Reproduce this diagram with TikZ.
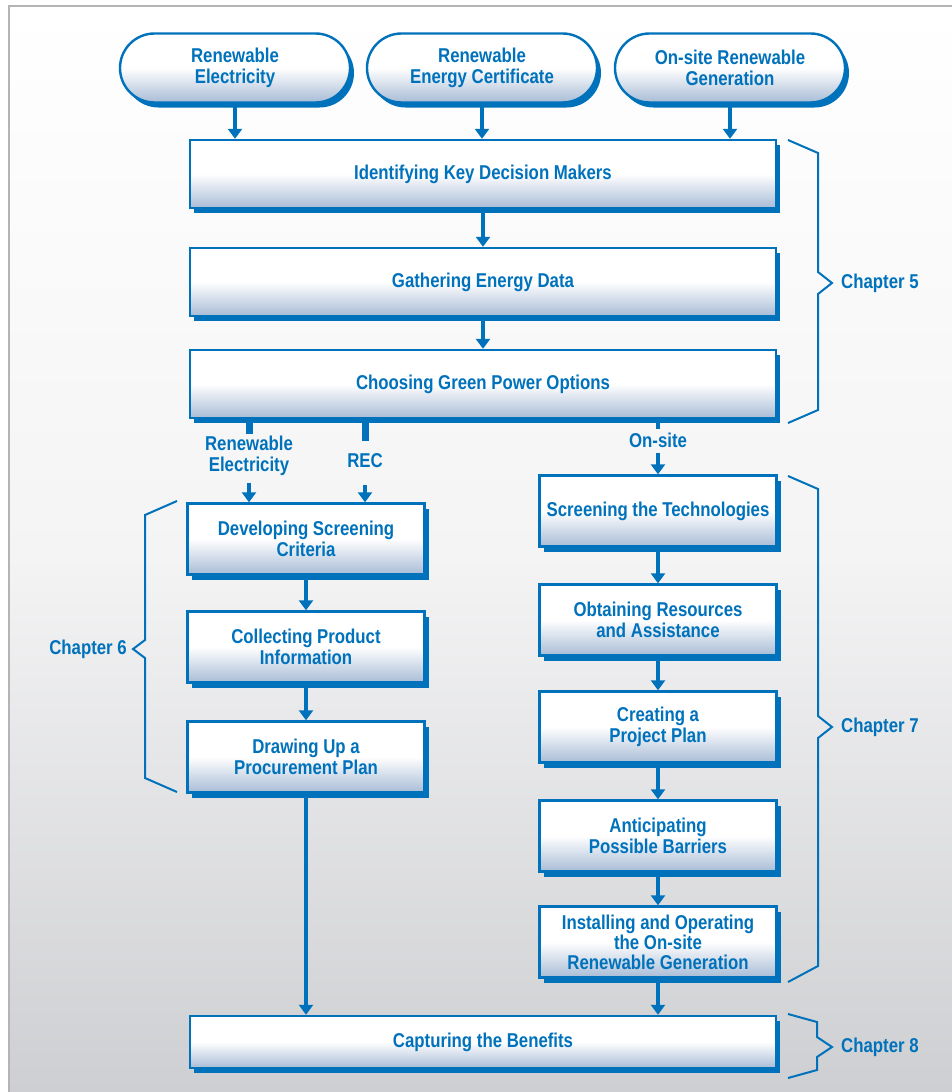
\documentclass[tikz,border=0pt]{standalone}
\usepackage{fontspec}
\newfontfamily\gpfont[FakeStretch=0.84]{Liberation Sans}
\usetikzlibrary{shapes.misc,shadows,arrows.meta}
\definecolor{gpblue}{RGB}{0,114,188}
\definecolor{boxbot}{RGB}{168,188,214}
\definecolor{bgmid}{RGB}{244,244,245}
\definecolor{bgbot}{RGB}{205,206,209}
\definecolor{framegray}{RGB}{180,180,182}
\tikzset{
  gptext/.style={text=gpblue, font=\gpfont\bfseries\fontsize{20}{21}\selectfont, align=center},
  gpbox/.style={gptext, draw=gpblue, line width=2.4pt, inner sep=2pt,
    top color=white, bottom color=boxbot, middle color=white,
    drop shadow={fill=gpblue, opacity=1, shadow xshift=4pt, shadow yshift=-5pt}},
  oval/.style={gpbox, rounded rectangle, minimum width=234pt, minimum height=69pt},
  widebox/.style={minimum width=586pt, minimum height=68pt},
  colbox/.style={minimum width=237pt, minimum height=71pt},
  lbl/.style={gptext, inner sep=1pt},
  chap/.style={gptext, inner sep=0pt},
  arr/.style={draw=gpblue, line width=3.5pt, -{Triangle[width=14pt,length=10pt]}},
  stub/.style={draw=gpblue, line width=7pt},
  brc/.style={draw=gpblue, line width=2pt, line join=miter}
}
\begin{document}
\begin{tikzpicture}[x=1pt,y=-1pt]
    \useasboundingbox (0,0) rectangle (952,1092);
    \fill[white] (0,0) rectangle (952,1092);
    \shadedraw[top color=white, bottom color=bgbot, middle color=bgmid, draw=framegray, line width=2pt] (9,6) rectangle (964,1104);

    \node[oval] (ovEl) at (235,68) {Renewable\\Electricity};
    \node[oval] (ovRec) at (482,68) {Renewable\\Energy Certificate};
    \node[oval] (ovOn) at (730,68) {On-site Renewable\\Generation};

    \node[gpbox, widebox] (idKey) at (483,174) {Identifying Key Decision Makers};
    \node[gpbox, widebox] (gather) at (483,282) {Gathering Energy Data};
    \node[gpbox, widebox] (choose) at (483,384) {Choosing Green Power Options};

    \node[lbl] (lbRE) at (249,456) {Renewable\\Electricity};
    \node[lbl] (lbREC) at (365,461) {REC};
    \node[lbl] (lbOS) at (658,440) {On-site};

    \node[gpbox, colbox] (devCrit) at (306,539) {Developing Screening\\Criteria};
    \node[gpbox, colbox] (collect) at (306,647) {Collecting Product\\Information};
    \node[gpbox, colbox] (procure) at (306,757) {Drawing Up a\\Procurement Plan};

    \node[gpbox, colbox] (screen) at (658,511) {Screening the Technologies};
    \node[gpbox, colbox] (obtain) at (658,620) {Obtaining Resources\\and Assistance};
    \node[gpbox, colbox] (project) at (658,727) {Creating a\\Project Plan};
    \node[gpbox, colbox] (barrier) at (658,836) {Anticipating\\Possible Barriers};
    \node[gpbox, colbox, font=\gpfont\bfseries\fontsize{20}{20}\selectfont] (install) at (658,942) {Installing and Operating\\the On-site\\Renewable Generation};

    \node[gpbox, widebox, minimum height=52pt] (capture) at (483,1042) {Capturing the Benefits};

    \draw[arr] (ovEl.south) -- (ovEl.south |- idKey.north);
    \draw[arr] (ovRec.south) -- (ovRec.south |- idKey.north);
    \draw[arr] (ovOn.south) -- (ovOn.south |- idKey.north);
    \draw[arr] (idKey) -- (gather);
    \draw[arr] (gather) -- (choose);

    \draw[stub, shorten >=1pt] (choose.south -| lbRE.north) -- (lbRE.north);
    \draw[stub, shorten >=12pt] (choose.south -| lbREC.north) -- (lbREC.north);
    \draw[draw=gpblue, line width=3.5pt, shorten >=2pt] (choose.south -| lbOS.north) -- (lbOS.north);
    \draw[arr, shorten <=6pt] (lbRE.south) -- (lbRE.south |- devCrit.north);
    \draw[arr, shorten <=16pt] (lbREC.south) -- (lbREC.south |- devCrit.north);
    \draw[arr, shorten <=4pt] (lbOS.south) -- (screen);

    \draw[arr] (devCrit) -- (collect);
    \draw[arr] (collect) -- (procure);
    \draw[arr] (procure.south) -- (procure.south |- capture.north);
    \draw[arr] (screen) -- (obtain);
    \draw[arr] (obtain) -- (project);
    \draw[arr] (project) -- (barrier);
    \draw[arr] (barrier) -- (install);
    \draw[arr] (install.south) -- (install.south |- capture.north);

    \draw[brc] (788,140) -- (818,153) -- (818,272) -- (832,283) -- (818,294) -- (818,410) -- (788,423);
    \node[chap, anchor=west] (ch5) at (841,283) {Chapter 5};
    \draw[brc] (177,501) -- (145,515) -- (145,640) -- (133,649) -- (145,658) -- (145,778) -- (177,792);
    \node[chap, anchor=east] (ch6) at (127,649) {Chapter 6};
    \draw[brc] (788,476) -- (818,489) -- (818,716) -- (832,727) -- (818,738) -- (818,966) -- (788,982);
    \node[chap, anchor=west] (ch7) at (841,727) {Chapter 7};
    \draw[brc] (788,1014) -- (817,1022) -- (817,1037) -- (832,1047) -- (817,1057) -- (817,1070) -- (788,1078);
    \node[chap, anchor=west] (ch8) at (841,1047) {Chapter 8};
\end{tikzpicture}
\end{document}
